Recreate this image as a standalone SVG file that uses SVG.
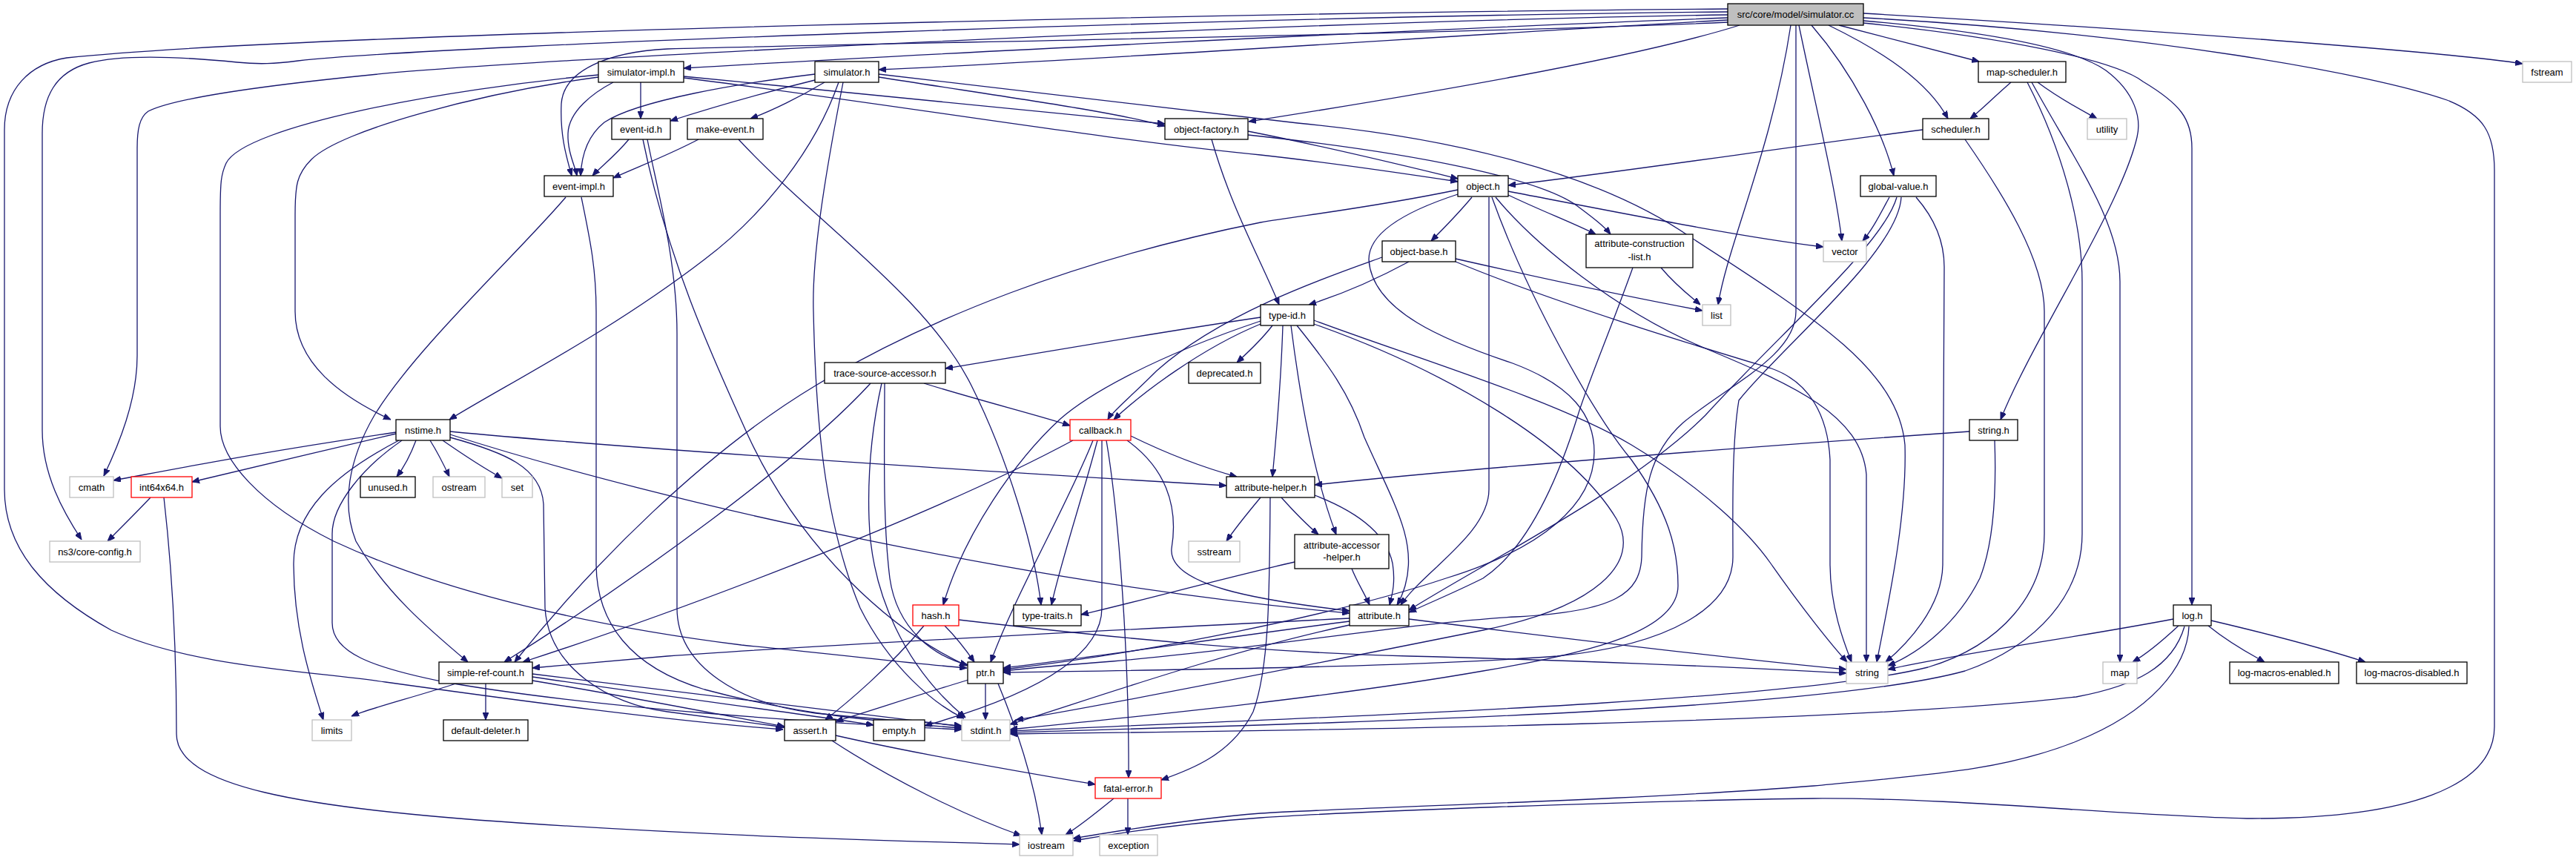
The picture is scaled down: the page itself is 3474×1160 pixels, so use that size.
<svg xmlns="http://www.w3.org/2000/svg" width="3474" height="1160" viewBox="0 0 3474 1160">
<defs>
<marker id="arr" viewBox="0 0 10 8" refX="10" refY="4" markerWidth="10" markerHeight="8" markerUnits="userSpaceOnUse" orient="auto">
<path d="M0,0 L10,4 L0,8 z" fill="#191970" stroke="#191970" stroke-width="1"/>
</marker>
</defs>
<style>
.e{fill:none;stroke:#191970;stroke-width:1.3;marker-end:url(#arr)}
.n rect{fill:#fff;stroke:#000;stroke-width:1.3}
.g rect{fill:#fff;stroke:#bfbfbf;stroke-width:1.3}
.r rect{fill:#fff;stroke:#ff0000;stroke-width:1.3}
.root rect{fill:#bfbfbf;stroke:#000;stroke-width:1.3}
text{font-family:"Liberation Sans",Arial,Helvetica,sans-serif;font-size:13px;fill:#000;text-anchor:middle}
</style>
<rect width="3474" height="1160" fill="#fff"/>
<g id="edges">
<!-- root -->
<path class="e" d="M2330,12 C1700,16 400,45 90,78 C40,86 6,120 6,175 L6,660 C6,740 60,800 150,850 C260,900 420,905 520,920 C700,945 900,972 1056,984"/>
<path class="e" d="M2330,16 C1700,22 600,60 402,82 C370,86 350,87 320,84 C260,78 170,72 120,85 C75,97 57,130 57,180 L57,580 C57,640 85,690 110,728"/>
<path class="e" d="M2330,20 C1700,30 700,80 500,101 C330,118 230,135 200,150 C188,158 185,175 185,200 L185,480 C185,540 160,600 140,642"/>
<path class="e" d="M2330,24 C1900,40 1200,75 922,92"/>
<path class="e" d="M2330,27 C2000,45 1500,80 1185,94"/>
<path class="e" d="M2330,30 C2000,45 1200,58 900,66 C820,70 760,95 757,140 C755,185 765,215 771,237"/>
<path class="e" d="M2346,34 C2200,80 1900,130 1684,164"/>
<path class="e" d="M2415,34 C2390,200 2330,330 2317,411"/>
<path class="e" d="M2422,34 L2422,420 C2422,480 2330,520 2270,570 C2225,610 2215,660 2214,751 C2212,800 2180,825 2044,832 C1900,840 1700,875 1500,892 C1420,898 1380,902 1353,905"/>
<path class="e" d="M2426,34 C2450,150 2475,250 2484,325"/>
<path class="e" d="M2443,34 C2500,100 2540,180 2554,237"/>
<path class="e" d="M2466,34 C2540,70 2600,110 2627,160"/>
<path class="e" d="M2480,34 C2560,55 2620,70 2669,83"/>
<path class="e" d="M2513,28 C2650,40 2790,60 2840,95 C2880,125 2888,160 2882,185 C2860,280 2740,460 2698,566"/>
<path class="e" d="M2513,31 C2700,50 2850,80 2890,110 C2940,140 2956,160 2956,200 L2956,816"/>
<path class="e" d="M2513,18 C2900,40 3300,70 3402,86"/>
<path class="e" d="M2513,24 C2900,45 3200,100 3300,135 C3350,155 3364,180 3364,230 L3364,980 C3364,1060 3250,1105 3030,1104 C2850,1100 2650,1076 2446,1077 C2200,1080 1800,1096 1700,1103 C1600,1110 1500,1125 1448,1134"/>
<!-- simulator-impl.h -->
<path class="e" d="M827,111 C800,125 767,150 766,180 C765,205 776,225 778,237"/>
<path class="e" d="M864,111 L864,160"/>
<path class="e" d="M807,104 C650,125 460,175 420,215 C400,235 398,250 398,290 L398,420 C398,490 460,535 527,566"/>
<path class="e" d="M922,105 C1200,140 1500,190 1700,209 C1800,220 1900,235 1966,245"/>
<path class="e" d="M922,103 C1200,130 1450,155 1571,167"/>
<path class="e" d="M807,101 C600,120 330,170 305,220 C298,235 297,245 297,290 L297,575 C297,620 350,680 450,730 C600,800 800,845 1000,870 C1150,885 1250,897 1304,901"/>
<!-- simulator.h -->
<path class="e" d="M1099,108 C1030,125 960,145 904,163"/>
<path class="e" d="M1112,111 C1080,130 1040,150 1012,160"/>
<path class="e" d="M1099,100 C1000,112 860,135 815,165 C790,185 784,215 783,237"/>
<path class="e" d="M1131,111 C1100,200 1030,290 950,350 C820,450 680,520 606,566"/>
<path class="e" d="M1137,111 C1110,250 1095,350 1097,420 C1100,560 1110,700 1160,820 C1200,900 1260,950 1300,969"/>
<path class="e" d="M1185,104 C1350,130 1500,150 1571,170"/>
<path class="e" d="M1185,100 C1400,125 1600,150 1750,166 C1950,185 2150,230 2280,320 C2450,430 2560,500 2569,600 C2572,700 2545,820 2531,893"/>
<!-- event-id.h -->
<path class="e" d="M867,188 C900,350 960,480 1010,590 C1080,740 1200,850 1304,898"/>
<path class="e" d="M848,188 C830,210 810,225 799,237"/>
<path class="e" d="M873,188 C885,250 913,350 913,450 L913,820 C913,900 1000,950 1100,962 C1200,972 1260,975 1297,979"/>
<!-- make-event.h -->
<path class="e" d="M942,188 C900,210 860,225 827,240"/>
<path class="e" d="M996,188 C1100,300 1250,400 1310,520 C1360,620 1395,740 1404,816"/>
<!-- event-impl.h -->
<path class="e" d="M763,266 C700,340 560,470 505,560 C470,620 460,680 480,730 C520,800 580,850 631,893"/>
<path class="e" d="M784,266 C795,320 804,360 804,420 L804,760 C804,840 850,900 950,930 C1080,965 1200,975 1297,982"/>
<!-- object-factory.h -->
<path class="e" d="M1683,182 C1900,205 2080,240 2130,280 C2150,295 2163,305 2172,316"/>
<path class="e" d="M1683,177 C1800,200 1900,225 1966,241"/>
<path class="e" d="M1634,188 C1660,280 1700,350 1725,411"/>
<!-- object.h -->
<path class="e" d="M2012,266 C2060,400 2150,560 2200,620 C2250,690 2263,740 2263,790 C2263,850 2150,880 2000,905 C1800,940 1550,965 1362,984"/>
<path class="e" d="M2017,266 C2070,330 2180,420 2300,470 C2420,520 2510,560 2517,640 L2517,893"/>
<path class="e" d="M2034,258 C2200,290 2350,320 2459,333"/>
<path class="e" d="M1966,262 C1880,290 1846,320 1846,350 C1850,420 1950,460 2040,490 C2120,520 2150,560 2150,610 C2150,680 2080,740 1950,780 C1800,830 1550,880 1353,903"/>
<path class="e" d="M2008,266 L2008,660 C2008,720 1920,770 1889,816"/>
<path class="e" d="M1985,266 C1965,290 1945,310 1930,325"/>
<path class="e" d="M2034,263 C2080,285 2120,300 2152,316"/>
<path class="e" d="M1966,256 C1850,280 1760,290 1700,300 C1450,350 1250,430 1100,520 C950,610 800,760 694,893"/>
<!-- global-value.h -->
<path class="e" d="M2584,266 C2605,290 2622,320 2622,360 L2620,760 C2620,820 2570,870 2543,893"/>
<path class="e" d="M2548,266 C2535,290 2525,310 2512,325"/>
<path class="e" d="M2564,266 C2560,340 2400,470 2345,540 C2335,600 2337,700 2337,751 C2337,820 2250,870 2100,885 C1900,900 1600,903 1353,907"/>
<path class="e" d="M2558,266 C2540,330 2400,450 2300,560 C2200,660 2000,760 1900,823"/>
<!-- scheduler.h -->
<path class="e" d="M2650,188 C2700,260 2757,350 2757,420 L2757,720 C2757,800 2700,870 2600,900 C2400,950 1700,970 1362,986"/>
<path class="e" d="M2593,175 C2400,200 2200,230 2034,250"/>
<!-- map-scheduler.h -->
<path class="e" d="M2712,111 C2690,130 2670,150 2657,160"/>
<path class="e" d="M2734,111 C2780,200 2808,300 2808,380 L2808,720 C2808,800 2750,870 2650,905 C2450,960 1800,975 1362,988"/>
<path class="e" d="M2740,111 C2800,220 2859,300 2859,380 L2859,893"/>
<path class="e" d="M2748,111 C2780,135 2810,150 2828,160"/>
<!-- string.h -->
<path class="e" d="M2656,582 C2400,600 2000,630 1773,654"/>
<path class="e" d="M2690,594 C2692,650 2691,727 2670,780 C2640,840 2590,880 2546,898"/>
<!-- log.h -->
<path class="e" d="M2931,835 C2800,860 2650,880 2546,903"/>
<path class="e" d="M2952,845 C2950,900 2900,960 2800,1000 C2700,1040 2600,1045 2446,1060 C2200,1080 1800,1090 1700,1097 C1600,1105 1500,1122 1447,1131"/>
<path class="e" d="M2946,845 C2930,900 2880,925 2800,940 C2500,975 1800,985 1362,990"/>
<path class="e" d="M2938,844 C2910,870 2890,885 2876,893"/>
<path class="e" d="M2978,844 C3010,870 3040,885 3054,893"/>
<path class="e" d="M2982,837 C3080,860 3150,880 3190,893"/>
<!-- object-base.h -->
<path class="e" d="M1900,353 C1850,380 1800,400 1765,411"/>
<path class="e" d="M1864,347 C1800,370 1650,420 1560,500 C1520,540 1500,555 1494,566"/>
<path class="e" d="M1963,353 C2100,410 2300,470 2389,497 C2440,515 2465,560 2468,620 L2468,760 C2468,820 2488,870 2497,893"/>
<path class="e" d="M1963,349 C2100,380 2220,405 2296,419"/>
<!-- attribute-construction-list.h -->
<path class="e" d="M2202,361 C2170,450 2140,520 2128,560 C2100,650 2060,740 2000,780 C1960,800 1930,812 1900,826"/>
<path class="e" d="M2240,361 C2260,385 2280,400 2293,411"/>
<!-- type-id.h -->
<path class="e" d="M1749,439 C1790,490 1820,530 1840,590 C1880,680 1912,730 1895,790 C1892,800 1889,808 1884,816"/>
<path class="e" d="M1741,439 C1755,550 1775,650 1802,721"/>
<path class="e" d="M1700,428 C1550,450 1380,480 1275,497"/>
<path class="e" d="M1730,439 C1728,500 1723,570 1716,643"/>
<path class="e" d="M1700,437 C1620,470 1540,530 1502,566"/>
<path class="e" d="M1716,439 C1700,460 1680,478 1668,489"/>
<path class="e" d="M1700,433 C1560,480 1470,530 1430,565 C1370,620 1300,720 1272,816"/>
<path class="e" d="M1772,432 C1900,480 2100,540 2200,600 C2300,660 2360,720 2388,760 C2430,820 2470,870 2491,893"/>
<path class="e" d="M1772,437 C1950,500 2120,600 2180,700 C2215,760 2150,820 2000,850 C1800,890 1500,950 1370,971"/>
<!-- trace-source-accessor.h -->
<path class="e" d="M1189,517 C1175,580 1170,640 1172,700 C1175,800 1220,900 1302,968"/>
<path class="e" d="M1246,517 C1320,540 1400,560 1443,574"/>
<path class="e" d="M1193,517 C1193,600 1190,700 1200,780 C1210,850 1260,885 1305,897"/>
<path class="e" d="M1174,517 C1080,620 860,780 680,893"/>
<!-- callback.h -->
<path class="e" d="M1474,594 C1440,680 1370,800 1336,893"/>
<path class="e" d="M1492,594 C1510,700 1523,900 1522,1049"/>
<path class="e" d="M1486,594 L1486,820 C1486,900 1350,950 1247,979"/>
<path class="e" d="M1480,594 C1460,670 1430,760 1418,816"/>
<path class="e" d="M1520,594 C1570,630 1590,680 1580,740 C1575,790 1700,810 1820,824"/>
<path class="e" d="M1525,588 C1570,610 1620,630 1668,643"/>
<path class="e" d="M1447,594 C1250,700 900,830 705,893"/>
<!-- attribute-helper.h -->
<path class="e" d="M1773,668 C1830,690 1870,720 1878,760 C1882,785 1878,800 1874,816"/>
<path class="e" d="M1728,671 C1745,690 1765,710 1778,721"/>
<path class="e" d="M1700,671 C1680,695 1664,715 1654,730"/>
<path class="e" d="M1713,671 C1712,800 1712,900 1690,960 C1660,1020 1600,1040 1566,1052"/>
<!-- attribute-accessor-helper.h -->
<path class="e" d="M1823,767 C1830,785 1840,800 1847,816"/>
<path class="e" d="M1746,758 C1650,780 1520,815 1458,829"/>
<!-- attribute.h -->
<path class="e" d="M1900,835 C2100,860 2350,890 2490,903"/>
<path class="e" d="M1820,843 C1650,880 1480,940 1362,977"/>
<path class="e" d="M1820,838 C1650,860 1450,890 1353,901"/>
<path class="e" d="M1820,834 C1600,845 1100,870 900,885 C820,892 760,897 718,901"/>
<!-- hash.h -->
<path class="e" d="M1293,836 C1500,860 1700,880 1900,885 C2100,890 2350,900 2490,908"/>
<path class="e" d="M1246,844 C1200,900 1140,950 1113,971"/>
<path class="e" d="M1274,844 C1290,860 1305,880 1314,893"/>
<!-- nstime.h -->
<path class="e" d="M607,590 C680,610 730,630 733,680 L735,820 C740,900 820,950 900,960 C960,968 1010,975 1058,981"/>
<path class="e" d="M607,586 C900,680 1400,790 1820,827"/>
<path class="e" d="M607,582 C900,610 1400,640 1654,655"/>
<path class="e" d="M534,585 C450,605 320,635 259,650"/>
<path class="e" d="M561,594 C555,610 545,630 535,643"/>
<path class="e" d="M542,594 C490,630 448,680 448,720 L448,840 C448,880 500,900 600,920 C800,955 1100,975 1297,984"/>
<path class="e" d="M538,594 C450,640 396,690 396,760 C396,850 420,920 436,971"/>
<path class="e" d="M534,583 C350,610 250,630 153,648"/>
<path class="e" d="M580,594 C590,610 600,630 606,643"/>
<path class="e" d="M597,594 C620,610 650,630 677,645"/>
<!-- int64x64.h -->
<path class="e" d="M203,671 C185,690 160,715 145,730"/>
<path class="e" d="M221,671 C230,750 238,850 238,990 C238,1060 400,1090 700,1110 C1000,1130 1250,1135 1375,1139"/>
<!-- simple-ref-count.h -->
<path class="e" d="M718,913 C900,940 1100,965 1178,978"/>
<path class="e" d="M655,922 L655,971"/>
<path class="e" d="M718,918 C850,940 950,960 1058,980"/>
<path class="e" d="M718,909 C900,930 1100,955 1297,980"/>
<path class="e" d="M615,922 C560,940 500,955 474,966"/>
<!-- ptr.h -->
<path class="e" d="M1346,922 C1370,980 1395,1050 1405,1126"/>
<path class="e" d="M1329,922 L1329,971"/>
<path class="e" d="M1306,917 C1230,940 1170,960 1127,973"/>
<!-- assert.h -->
<path class="e" d="M1127,992 C1250,1020 1400,1045 1477,1058"/>
<path class="e" d="M1122,999 C1200,1050 1300,1100 1377,1127"/>
<!-- fatal-error.h -->
<path class="e" d="M1502,1077 C1480,1095 1455,1115 1437,1126"/>
<path class="e" d="M1521,1077 L1521,1126"/>
</g>
<g id="node-root" class="root"><rect x="2330" y="5" width="183" height="29"/><text x="2421.5" y="24">src/core/model/simulator.cc</text></g>
<g id="node-simulator-impl" class="n"><rect x="807" y="83" width="115" height="28"/><text x="864.5" y="101.5">simulator-impl.h</text></g>
<g id="node-simulator" class="n"><rect x="1099" y="83" width="86" height="28"/><text x="1142" y="101.5">simulator.h</text></g>
<g id="node-map-scheduler" class="n"><rect x="2668" y="83" width="118" height="28"/><text x="2727" y="101.5">map-scheduler.h</text></g>
<g id="node-fstream" class="g"><rect x="3402" y="83" width="66" height="28"/><text x="3435" y="101.5">fstream</text></g>
<g id="node-event-id" class="n"><rect x="825" y="160" width="79" height="28"/><text x="864.5" y="178.5">event-id.h</text></g>
<g id="node-make-event" class="n"><rect x="927" y="160" width="102" height="28"/><text x="978" y="178.5">make-event.h</text></g>
<g id="node-object-factory" class="n"><rect x="1571" y="160" width="112" height="28"/><text x="1627" y="178.5">object-factory.h</text></g>
<g id="node-scheduler" class="n"><rect x="2593" y="160" width="89" height="28"/><text x="2637.5" y="178.5">scheduler.h</text></g>
<g id="node-utility" class="g"><rect x="2815" y="160" width="53" height="28"/><text x="2841.5" y="178.5">utility</text></g>
<g id="node-event-impl" class="n"><rect x="734" y="237" width="93" height="28"/><text x="780.5" y="255.5">event-impl.h</text></g>
<g id="node-object" class="n"><rect x="1966" y="237" width="68" height="28"/><text x="2000" y="255.5">object.h</text></g>
<g id="node-global-value" class="n"><rect x="2509" y="237" width="102" height="28"/><text x="2560" y="255.5">global-value.h</text></g>
<g id="node-object-base" class="n"><rect x="1864" y="325" width="99" height="28"/><text x="1913.5" y="343.5">object-base.h</text></g>
<g id="node-attribute-construction-list" class="n"><rect x="2139" y="316" width="144" height="45"/><text x="2211" y="333">attribute-construction</text><text x="2211" y="351">-list.h</text></g>
<g id="node-vector" class="g"><rect x="2459" y="325" width="58" height="28"/><text x="2488" y="343.5">vector</text></g>
<g id="node-type-id" class="n"><rect x="1700" y="411" width="72" height="28"/><text x="1736" y="429.5">type-id.h</text></g>
<g id="node-list" class="g"><rect x="2296" y="411" width="38" height="28"/><text x="2315" y="429.5">list</text></g>
<g id="node-trace-source-accessor" class="n"><rect x="1112" y="489" width="163" height="28"/><text x="1193.5" y="507.5">trace-source-accessor.h</text></g>
<g id="node-deprecated" class="n"><rect x="1603" y="489" width="97" height="28"/><text x="1651.5" y="507.5">deprecated.h</text></g>
<g id="node-nstime" class="n"><rect x="534" y="566" width="73" height="28"/><text x="570.5" y="584.5">nstime.h</text></g>
<g id="node-callback" class="r"><rect x="1443" y="566" width="82" height="28"/><text x="1484" y="584.5">callback.h</text></g>
<g id="node-string-h" class="n"><rect x="2656" y="566" width="65" height="28"/><text x="2688.5" y="584.5">string.h</text></g>
<g id="node-cmath" class="g"><rect x="94" y="643" width="59" height="28"/><text x="123.5" y="661.5">cmath</text></g>
<g id="node-int64x64" class="r"><rect x="177" y="643" width="82" height="28"/><text x="218" y="661.5">int64x64.h</text></g>
<g id="node-unused" class="n"><rect x="486" y="643" width="74" height="28"/><text x="523" y="661.5">unused.h</text></g>
<g id="node-ostream" class="g"><rect x="584" y="643" width="70" height="28"/><text x="619" y="661.5">ostream</text></g>
<g id="node-set" class="g"><rect x="677" y="643" width="41" height="28"/><text x="697.5" y="661.5">set</text></g>
<g id="node-attribute-helper" class="n"><rect x="1654" y="643" width="119" height="28"/><text x="1713.5" y="661.5">attribute-helper.h</text></g>
<g id="node-core-config" class="g"><rect x="67" y="730" width="122" height="28"/><text x="128" y="748.5">ns3/core-config.h</text></g>
<g id="node-sstream" class="g"><rect x="1603" y="730" width="69" height="28"/><text x="1637.5" y="748.5">sstream</text></g>
<g id="node-attribute-accessor-helper" class="n"><rect x="1746" y="721" width="127" height="46"/><text x="1809.5" y="740">attribute-accessor</text><text x="1809.5" y="756">-helper.h</text></g>
<g id="node-hash" class="r"><rect x="1231" y="816" width="62" height="28"/><text x="1262" y="834.5">hash.h</text></g>
<g id="node-type-traits" class="n"><rect x="1367" y="816" width="91" height="28"/><text x="1412.5" y="834.5">type-traits.h</text></g>
<g id="node-attribute" class="n"><rect x="1820" y="816" width="80" height="28"/><text x="1860" y="834.5">attribute.h</text></g>
<g id="node-log" class="n"><rect x="2931" y="816" width="51" height="28"/><text x="2956.5" y="834.5">log.h</text></g>
<g id="node-simple-ref-count" class="n"><rect x="592" y="893" width="126" height="29"/><text x="655" y="912">simple-ref-count.h</text></g>
<g id="node-ptr" class="n"><rect x="1305" y="893" width="48" height="29"/><text x="1329" y="912">ptr.h</text></g>
<g id="node-string" class="g"><rect x="2490" y="893" width="56" height="29"/><text x="2518" y="912">string</text></g>
<g id="node-map" class="g"><rect x="2836" y="893" width="46" height="29"/><text x="2859" y="912">map</text></g>
<g id="node-log-macros-enabled" class="n"><rect x="3007" y="893" width="147" height="29"/><text x="3080.5" y="912">log-macros-enabled.h</text></g>
<g id="node-log-macros-disabled" class="n"><rect x="3178" y="893" width="149" height="29"/><text x="3252.5" y="912">log-macros-disabled.h</text></g>
<g id="node-limits" class="g"><rect x="421" y="971" width="53" height="28"/><text x="447.5" y="989.5">limits</text></g>
<g id="node-default-deleter" class="n"><rect x="598" y="971" width="114" height="28"/><text x="655" y="989.5">default-deleter.h</text></g>
<g id="node-assert" class="n"><rect x="1058" y="971" width="69" height="28"/><text x="1092.5" y="989.5">assert.h</text></g>
<g id="node-empty" class="n"><rect x="1178" y="971" width="69" height="28"/><text x="1212.5" y="989.5">empty.h</text></g>
<g id="node-stdint" class="g"><rect x="1297" y="971" width="65" height="28"/><text x="1329.5" y="989.5">stdint.h</text></g>
<g id="node-fatal-error" class="r"><rect x="1477" y="1049" width="89" height="28"/><text x="1521.5" y="1067.5">fatal-error.h</text></g>
<g id="node-iostream" class="g"><rect x="1375" y="1126" width="72" height="28"/><text x="1411" y="1144.5">iostream</text></g>
<g id="node-exception" class="g"><rect x="1483" y="1126" width="78" height="28"/><text x="1522" y="1144.5">exception</text></g>
</svg>
